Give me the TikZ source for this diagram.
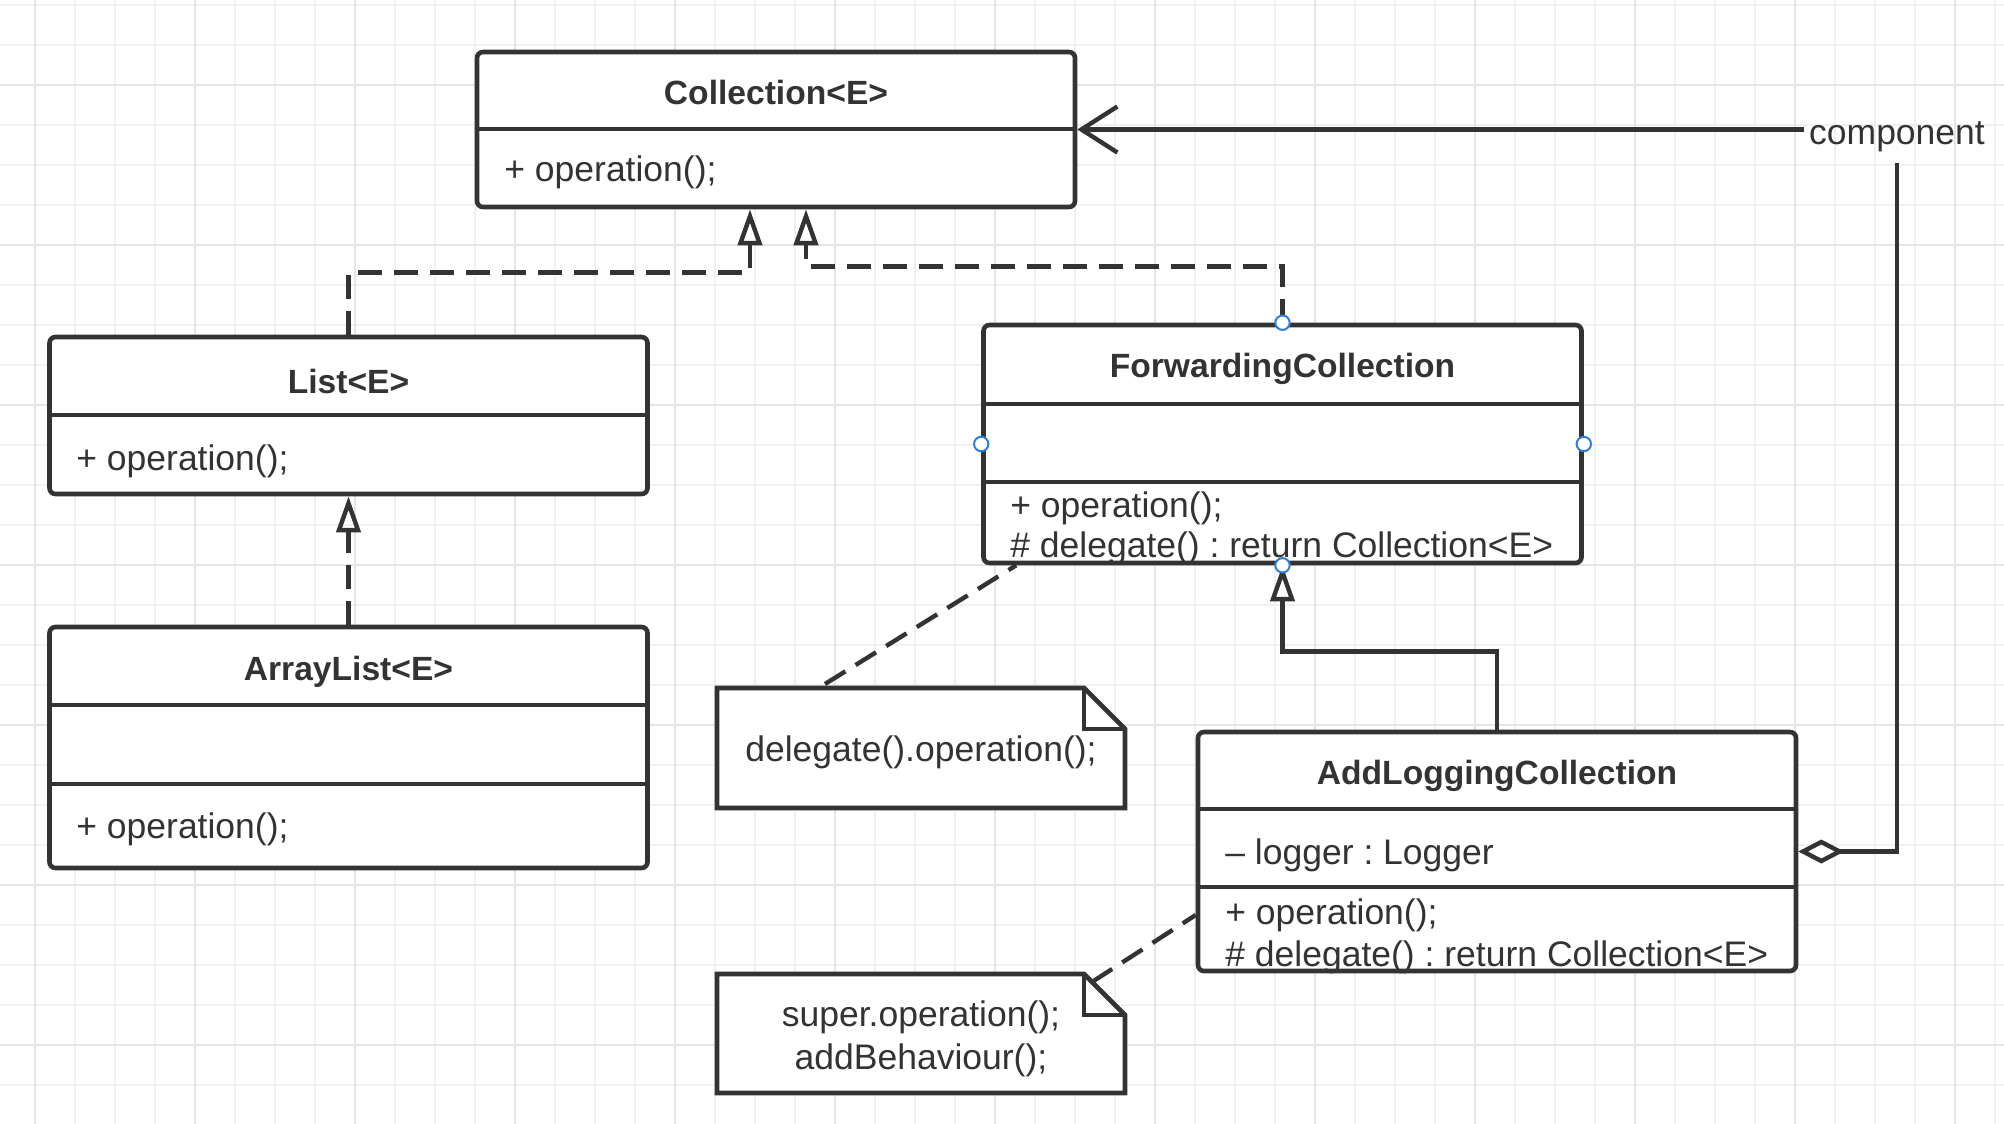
\documentclass[tikz,border=0pt]{standalone}
\usepackage{fontspec}
\setmainfont{Liberation Sans}
\usetikzlibrary{arrows.meta,calc}

\definecolor{ink}{HTML}{333333}
\definecolor{gridminor}{HTML}{F0F0F0}
\definecolor{gridmajor}{HTML}{E5E5E5}
\definecolor{handleblue}{HTML}{2F7DE1}

\frenchspacing
\begin{document}
\begin{tikzpicture}[x=0.5pt,y=-0.5pt,
  font=\fontsize{17.75}{20.5}\selectfont,
  umlbox/.style={draw=ink, line width=2.3pt, fill=white, rounded corners=3pt,
    minimum width=299pt, inner sep=0pt},
  divider/.style={draw=ink, line width=2.3pt},
  heading/.style={font=\bfseries\fontsize{16.8}{20}\selectfont, text=ink, inner sep=0pt},
  member/.style={anchor=west, text=ink, inner sep=0pt},
  notebox/.style={minimum width=204pt, inner sep=0pt, outer sep=0pt},
  notetext/.style={text=ink, align=center, inner sep=0pt},
  noteline/.style={draw=ink, line width=2.3pt, fill=white, line join=miter},
  link/.style={draw=ink, line width=2.2pt},
  dashlink/.style={link, dash pattern=on 12pt off 6pt},
  realize/.style={-{Triangle[open, length=18pt, width=12pt]}},
  handle/.style={draw=handleblue, fill=white, line width=1pt},
]
\useasboundingbox (0,0) rectangle (2004,1124);
\fill[white] (0,0) rectangle (2004,1124);

% background grid
\foreach \gx in {35,75,...,2004} \draw[gridminor, line width=0.8pt] (\gx,0) -- (\gx,1124);
\foreach \gy in {5,45,...,1124} \draw[gridminor, line width=0.8pt] (0,\gy) -- (2004,\gy);
\foreach \gx in {35,195,...,2004} \draw[gridmajor, line width=1pt] (\gx,0) -- (\gx,1124);
\foreach \gy in {85,245,...,1124} \draw[gridmajor, line width=1pt] (0,\gy) -- (2004,\gy);

% class boxes
\node[umlbox, minimum height=77.5pt] (coll) at (776,129.5) {};
\draw[divider] ($(coll.west)+(0,-0.5)$) -- ($(coll.east)+(0,-0.5)$);
\node[heading] (coll-name) at (776,92) {Collection<E>};
\node[member] (coll-op) at (504,172) {+ operation();};

\node[umlbox, minimum height=78.5pt] (list) at (348.5,415.5) {};
\draw[divider] ($(list.west)+(0,-0.5)$) -- ($(list.east)+(0,-0.5)$);
\node[heading] (list-name) at (348.5,381) {List<E>};
\node[member] (list-op) at (76,461) {+ operation();};

\node[umlbox, minimum height=120.5pt] (alist) at (348.5,747.5) {};
\draw[divider] ($(alist.west)+(0,-42.5)$) -- ($(alist.east)+(0,-42.5)$);
\draw[divider] ($(alist.west)+(0,36.5)$) -- ($(alist.east)+(0,36.5)$);
\node[heading] (alist-name) at (348.5,672) {ArrayList<E>};
\node[member] (alist-op) at (76,829) {+ operation();};

\node[umlbox, minimum height=119pt] (fwd) at (1282.5,444) {};
\draw[divider] ($(fwd.west)+(0,-40)$) -- ($(fwd.east)+(0,-40)$);
\draw[divider] ($(fwd.west)+(0,38)$) -- ($(fwd.east)+(0,38)$);
\node[heading] (fwd-name) at (1282.5,369) {ForwardingCollection};
\node[member] (fwd-op) at (1010,508) {+ operation();};
\node[member] (fwd-del) at (1010,548) {\# delegate() : return Collection<E>};

\node[umlbox, minimum height=119.5pt] (addlog) at (1497,851.5) {};
\draw[divider] ($(addlog.west)+(0,-42.5)$) -- ($(addlog.east)+(0,-42.5)$);
\draw[divider] ($(addlog.west)+(0,35.5)$) -- ($(addlog.east)+(0,35.5)$);
\node[heading] (addlog-name) at (1497,776) {AddLoggingCollection};
\node[member] (addlog-field) at (1225,855) {– logger : Logger};
\node[member] (addlog-op) at (1225,915) {+ operation();};
\node[member] (addlog-del) at (1225,957) {\# delegate() : return Collection<E>};

% notes with folded corner
\node[notebox, minimum height=60pt] (note1) at (921,748) {};
\draw[noteline] (note1.north west) -- ($(note1.north east)+(-41,0)$) -- ($(note1.north east)+(0,41)$)
  -- (note1.south east) -- (note1.south west) -- cycle;
\draw[noteline, fill=none] ($(note1.north east)+(-41,0)$) -- ($(note1.north east)+(-41,41)$) -- ($(note1.north east)+(0,41)$);
\node[notetext] (note1-text) at ($(note1.center)+(0,4)$) {delegate().operation();};

\node[notebox, minimum height=59.5pt] (note2) at (921,1033.5) {};
\draw[noteline] (note2.north west) -- ($(note2.north east)+(-41,0)$) -- ($(note2.north east)+(0,41)$)
  -- (note2.south east) -- (note2.south west) -- cycle;
\draw[noteline, fill=none] ($(note2.north east)+(-41,0)$) -- ($(note2.north east)+(-41,41)$) -- ($(note2.north east)+(0,41)$);
\node[notetext, font=\fontsize{17.75}{21.5}\selectfont] (note2-text) at (921,1038.5) {super.operation();\\addBehaviour();};

% realizations and inheritance
\draw[dashlink, realize] (list.north) |- ($(coll.south)+(-26,63)$) -- ($(coll.south)+(-26,0)$);
\draw[dashlink, realize] (fwd.north) |- ($(coll.south)+(30,57)$) -- ($(coll.south)+(30,0)$);
\draw[dashlink, realize] (alist.north) -- (list.south);
\draw[link, realize] (addlog.north) |- ($(fwd.south)+(0,86)$) -- (fwd.south);

% aggregation back to the component interface
\node[text=ink, inner xsep=2.5pt, inner ysep=5pt] (comp) at (1897,137) {component};
\draw[link, {Diamond[open, length=23pt, width=12pt]}-] (addlog.east) -| (comp.south);
\draw[link, -{Straight Barb[length=18pt, width=23pt]}] (comp.west |- coll.east) -- (coll.east);

% note anchors
\draw[dashlink] ($(note1.north)+(-96,-4)$) -- ($(fwd.south west)+(35,0)$);
\draw[dashlink] ($(note2.north east)+(-33,8)$) -- ($(addlog.west)+(0,63.5)$);

% selection handles
\foreach \a in {north,west,east,south} \draw[handle] (fwd.\a) circle[radius=3.6pt];
\end{tikzpicture}
\end{document}
